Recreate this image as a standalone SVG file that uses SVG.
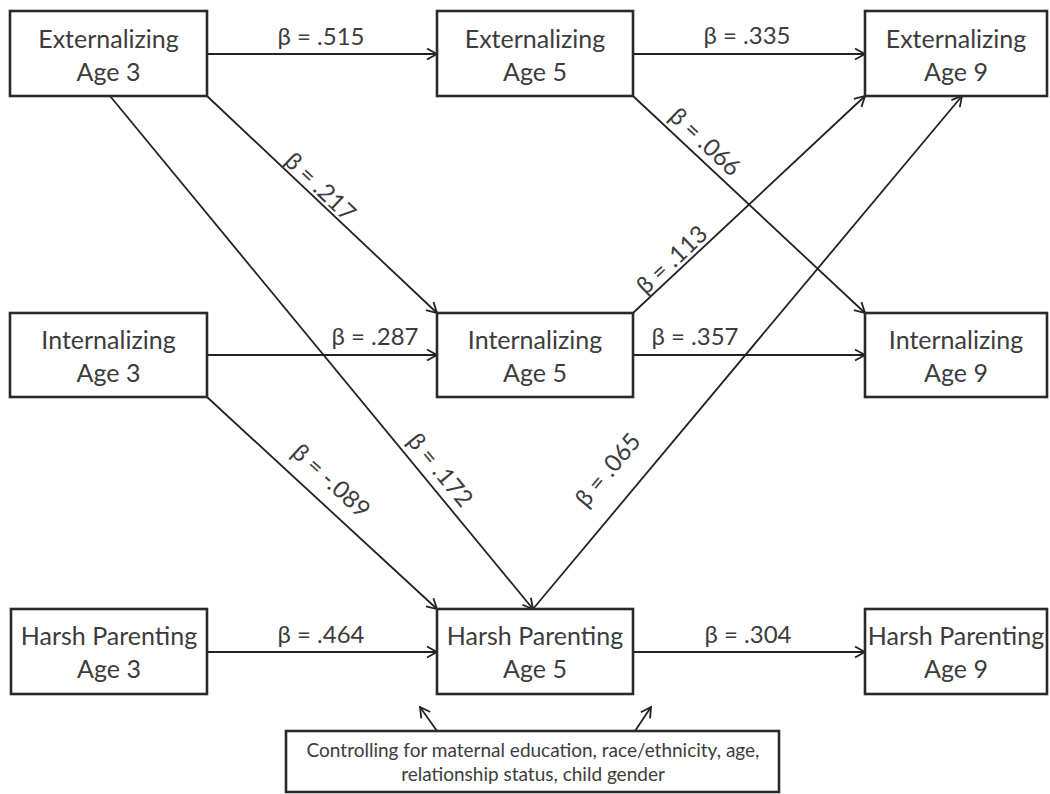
<svg xmlns="http://www.w3.org/2000/svg" width="1050" height="794" viewBox="0 0 1050 794">
<defs>
<marker id="arr" markerUnits="userSpaceOnUse" markerWidth="14" markerHeight="14" refX="12" refY="7" orient="auto">
<path d="M2,1.5 L12,7 L2,12.5" fill="none" stroke="#222" stroke-width="1.8"/>
</marker>
<style>
.box{fill:#fff;stroke:#2a2a2a;stroke-width:2.6}
.t{font-family:Lato,"Liberation Sans",sans-serif;font-size:25px;fill:#3c3c3c;text-anchor:middle}
.lb{font-family:Lato,"Liberation Sans",sans-serif;font-size:24px;fill:#3c3c3c;text-anchor:middle}
.ct{font-family:Lato,"Liberation Sans",sans-serif;font-size:19px;fill:#3c3c3c;text-anchor:middle}
.c{stroke:#222;stroke-width:1.8;fill:none;marker-end:url(#arr)}
</style>
</defs>
<rect width="1050" height="794" fill="#fff"/>
<g id="connectors">
<line class="c" x1="207" y1="54" x2="437" y2="54"/>
<line class="c" x1="633" y1="54" x2="865" y2="54"/>
<line class="c" x1="207" y1="355" x2="437" y2="355"/>
<line class="c" x1="633" y1="355" x2="865" y2="355"/>
<line class="c" x1="207" y1="652" x2="437" y2="652"/>
<line class="c" x1="633" y1="652" x2="865" y2="652"/>
<line class="c" x1="207" y1="96" x2="437" y2="313"/>
<line class="c" x1="110" y1="96" x2="533" y2="609"/>
<line class="c" x1="207" y1="397" x2="437" y2="609"/>
<line class="c" x1="633" y1="96" x2="865" y2="313"/>
<line class="c" x1="633" y1="313" x2="865" y2="96"/>
<line class="c" x1="533" y1="609" x2="962" y2="96"/>
<line class="c" x1="437" y1="731" x2="420" y2="707"/>
<line class="c" x1="635" y1="731" x2="651" y2="707"/>
<text class="lb" x="321" y="45">β = .515</text>
<text class="lb" x="747" y="44">β = .335</text>
<text class="lb" x="375" y="345">β = .287</text>
<text class="lb" x="695" y="345">β = .357</text>
<text class="lb" x="321" y="643">β = .464</text>
<text class="lb" x="748" y="643">β = .304</text>
<text class="lb" transform="translate(320,187) rotate(43.5)" x="0" y="8">β = .217</text>
<text class="lb" transform="translate(440,470) rotate(50.5)" x="0" y="8">β = .172</text>
<text class="lb" transform="translate(331,481) rotate(42.7)" x="0" y="8">β = -.089</text>
<text class="lb" transform="translate(705,142) rotate(43.2)" x="0" y="8">β = .066</text>
<text class="lb" transform="translate(672,260) rotate(-43.2)" x="0" y="8">β = .113</text>
<text class="lb" transform="translate(608,470) rotate(-50.1)" x="0" y="8">β = .065</text>
</g>
<g id="ext3"><rect class="box" x="10" y="11" width="197" height="85"/><text class="t" x="108.5" y="48">Externalizing</text><text class="t" x="108.5" y="81">Age 3</text></g>
<g id="ext5"><rect class="box" x="437" y="11" width="196" height="85"/><text class="t" x="535" y="48">Externalizing</text><text class="t" x="535" y="81">Age 5</text></g>
<g id="ext9"><rect class="box" x="865" y="11" width="182" height="85"/><text class="t" x="956" y="48">Externalizing</text><text class="t" x="956" y="81">Age 9</text></g>
<g id="int3"><rect class="box" x="10" y="313" width="197" height="84"/><text class="t" x="108.5" y="349">Internalizing</text><text class="t" x="108.5" y="382">Age 3</text></g>
<g id="int5"><rect class="box" x="437" y="313" width="196" height="84"/><text class="t" x="535" y="349">Internalizing</text><text class="t" x="535" y="382">Age 5</text></g>
<g id="int9"><rect class="box" x="865" y="313" width="182" height="84"/><text class="t" x="956" y="349">Internalizing</text><text class="t" x="956" y="382">Age 9</text></g>
<g id="hp3"><rect class="box" x="11" y="609" width="196" height="85"/><text class="t" x="109" y="645">Harsh Parenting</text><text class="t" x="109" y="678">Age 3</text></g>
<g id="hp5"><rect class="box" x="437" y="609" width="196" height="85"/><text class="t" x="535" y="645">Harsh Parenting</text><text class="t" x="535" y="678">Age 5</text></g>
<g id="hp9"><rect class="box" x="865" y="609" width="182" height="85"/><text class="t" x="956" y="645">Harsh Parenting</text><text class="t" x="956" y="678">Age 9</text></g>
<g id="controls"><rect class="box" x="286" y="731" width="493" height="61"/><text class="ct" x="533" y="757">Controlling for maternal education, race/ethnicity, age,</text><text class="ct" x="533" y="781">relationship status, child gender</text></g>
</svg>
